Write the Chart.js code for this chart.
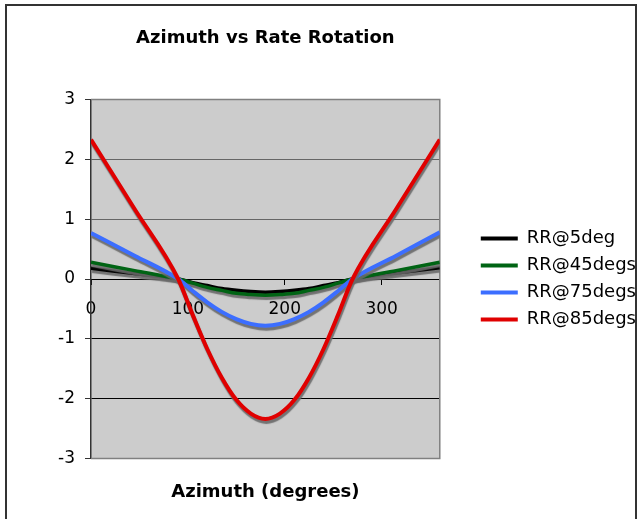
<!DOCTYPE html>
<html>
<head>
<meta charset="utf-8">
<script src="https://cdn.jsdelivr.net/npm/chart.js@4/dist/chart.umd.min.js"></script>
<style>
  body { margin: 0; background: #fff; }
  canvas { display: block; }
</style>
</head>
<body>
<canvas id="chart1" width="642" height="519"></canvas>
<script>
  // values (azimuth in degrees)
  let azimuth = [0, 45, 90, 105, 120, 135, 150, 165, 180, 195, 210, 225, 240, 255, 270, 315, 360];
  let rr5  = [0.18, 0.09, 0, -0.06, -0.11, -0.16, -0.19, -0.21, -0.22, -0.21, -0.19, -0.16, -0.11, -0.06, 0, 0.1, 0.19];
  let rr45 = [0.28, 0.14, 0, -0.07, -0.14, -0.19, -0.24, -0.26, -0.27, -0.26, -0.24, -0.19, -0.14, -0.07, 0, 0.14, 0.28];
  let rr75 = [0.77, 0.39, 0, -0.2, -0.39, -0.55, -0.67, -0.75, -0.78, -0.75, -0.67, -0.55, -0.39, -0.2, 0, 0.39, 0.78];
  let rr85 = [2.33, 1.17, 0, -0.6, -1.17, -1.65, -2.02, -2.25, -2.34, -2.25, -2.02, -1.65, -1.17, -0.6, 0, 1.17, 2.33];
  let seriesNames = ['RR@5deg', 'RR@45degs', 'RR@75degs', 'RR@85degs'];
  let seriesColors = ['#000000', '#006414', '#3c6eff', '#e00000'];
  let xTicks = [0, 100, 200, 300];

  Chart.defaults.font.family = "'DejaVu Sans', Verdana, sans-serif";
  Chart.defaults.color = '#000';

  function toPoints(values) {
    let pts = [];
    for (let i = 0; i < azimuth.length; i++) {
      pts.push({x: azimuth[i], y: values[i]});
    }
    return pts;
  }

  let allValues = [rr5, rr45, rr75, rr85];
  let widths = [3.5, 3.5, 4, 4];
  let datasets = [];
  for (let i = 0; i < allValues.length; i++) {
    datasets.push({
      label: seriesNames[i],
      data: toPoints(allValues[i]),
      borderColor: seriesColors[i],
      backgroundColor: seriesColors[i],
      borderWidth: widths[i],
      pointRadius: 0,
      cubicInterpolationMode: 'monotone',
      order: 3 - i   // red drawn on top
    });
  }

  // white page, outer frame, grey plot area
  let frame = {
    id: 'frame',
    beforeDraw(chart) {
      let ctx = chart.ctx, a = chart.chartArea;
      ctx.save();
      ctx.fillStyle = '#fff';
      ctx.fillRect(0, 0, chart.width, chart.height);
      ctx.strokeStyle = '#333';
      ctx.lineWidth = 2;
      ctx.strokeRect(6, 5, 630, 520);
      ctx.fillStyle = '#cccccc';
      ctx.fillRect(a.left, a.top, a.right - a.left, a.bottom - a.top);
      ctx.restore();
    },
    beforeDatasetsDraw(chart) {
      let ctx = chart.ctx, a = chart.chartArea;
      ctx.save();
      ctx.strokeStyle = '#808080';
      ctx.lineWidth = 1.5;
      ctx.beginPath();
      ctx.moveTo(a.left, a.top);
      ctx.lineTo(a.right, a.top);
      ctx.lineTo(a.right, a.bottom);
      ctx.lineTo(a.left, a.bottom);
      ctx.stroke();
      ctx.restore();
    }
  };

  // grey drop shadow under each line
  let lineShadow = {
    id: 'lineShadow',
    beforeDatasetDraw(chart) {
      let ctx = chart.ctx;
      ctx.save();
      ctx.shadowColor = 'rgba(105,105,105,0.9)';
      ctx.shadowOffsetX = 1;
      ctx.shadowOffsetY = 3;
      ctx.shadowBlur = 1;
    },
    afterDatasetDraw(chart) {
      chart.ctx.restore();
    }
  };

  let ctx = document.getElementById('chart1').getContext('2d');
  new Chart(ctx, {
    type: 'line',
    data: {datasets: datasets},
    plugins: [frame, lineShadow],
    options: {
      responsive: false,
      animation: false,
      layout: {padding: {left: 10, right: -4, top: 8, bottom: 12}},
      plugins: {
        tooltip: {enabled: false},
        title: {
          display: true,
          fullSize: false,
          text: 'Azimuth vs Rate Rotation',
          color: '#000',
          font: {size: 18, weight: 'bold'},
          padding: {top: 20, bottom: 50}
        },
        legend: {
          position: 'right',
          fullSize: false,
          maxWidth: 220,
          labels: {
            boxWidth: 37,
            boxHeight: 4,
            padding: 9,
            color: '#000',
            font: {size: 18},
            sort: (a, b) => a.datasetIndex - b.datasetIndex,
            generateLabels(chart) {
              let items = Chart.defaults.plugins.legend.labels.generateLabels(chart);
              items.forEach(it => { it.lineWidth = 0; });
              return items;
            }
          }
        }
      },
      scales: {
        x: {
          type: 'linear',
          min: 0,
          max: 360,
          position: {y: 0},
          afterBuildTicks(scale) {
            scale.ticks = xTicks.map(v => ({value: v}));
          },
          ticks: {padding: 15, maxRotation: 0, font: {size: 17}, color: '#000'},
          grid: {drawOnChartArea: false, tickLength: 5, color: '#000'},
          border: {color: '#000', width: 1}
        },
        x2: {
          type: 'linear',
          position: 'bottom',
          min: 0,
          max: 360,
          ticks: {display: false},
          grid: {display: false, drawTicks: false},
          border: {display: false},
          title: {
            display: true,
            text: 'Azimuth (degrees)',
            color: '#000',
            font: {size: 18, weight: 'bold'},
            padding: {top: 23, bottom: 4}
          }
        },
        y: {
          min: -3,
          max: 3,
          ticks: {stepSize: 1, padding: 10, font: {size: 17}, color: '#000'},
          grid: {
            tickLength: 6,
            tickColor: '#333',
            color: c => {
              let v = c.tick ? c.tick.value : 0;
              if (v > 0 || v == -3) return '#666';
              return '#000';
            }
          },
          border: {color: '#333', width: 1.5},
          afterFit(scale) { scale.width = 81; }
        },
        y2: {
          position: 'right',
          ticks: {display: false},
          grid: {display: false},
          border: {display: false},
          afterFit(scale) { scale.width = 32; }
        }
      }
    }
  });
</script>
</body>
</html>
